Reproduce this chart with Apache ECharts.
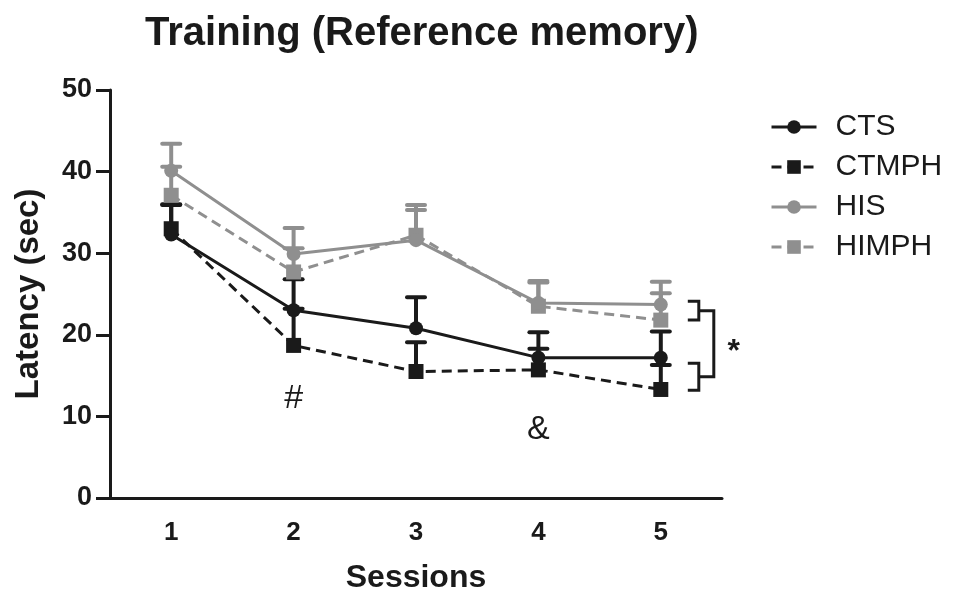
<!DOCTYPE html>
<html>
<head>
<meta charset="utf-8">
<script src="https://cdn.jsdelivr.net/npm/echarts@6/dist/echarts.min.js"></script>
<style>
  html, body { margin: 0; padding: 0; background: #fff; }
  #chart { width: 953px; height: 593px; }
</style>
</head>
<body>
<div id="chart"></div>
<script>
// Sessions on the x axis
const sessions = ['1', '2', '3', '4', '5'];
const yTicks = [0, 10, 20, 30, 40, 50];

// Mean latency (sec) per group
const ctsMean    = [32.3, 23.0, 20.8, 17.2, 17.2];
const ctmphMean  = [33.0, 18.7, 15.5, 15.7, 13.3];
const hisMean    = [40.1, 29.9, 31.6, 23.9, 23.7];
const himphMean  = [37.1, 27.7, 32.2, 23.5, 21.8];

// Upper end of the error bar (mean + SEM)
const ctsUpper   = [36.0, 26.8, 24.6, 20.3, 20.4];
const ctmphUpper = [35.9, 23.2, 19.1, 18.3, 16.3];
const hisUpper   = [43.4, 33.1, 35.9, 26.6, 26.5];
const himphUpper = [40.6, 30.6, 35.3, 26.4, 25.1];

// Significance brackets at the last session (top/bottom of each group pair)
const bracketSession = 4;
const bracketHigh = [24.1, 21.8];
const bracketLow  = [16.5, 13.2];
const bracketMark = '*';

// Per-session markers
const markSymbols  = ['#', '&'];
const markSessions = [1, 3];
const markValues   = [12.2, 8.4];

const BLACK = '#1a1a1a';
const GRAY = '#8f8f8f';
const FONT = '"Liberation Sans", Arial, sans-serif';

function errorData(mean, upper) {
  return mean.map((m, i) => [i, m, upper[i]]);
}

function errorRender(color) {
  return function (params, api) {
    const x = api.value(0);
    const p0 = api.coord([x, api.value(1)]);
    const p1 = api.coord([x, api.value(2)]);
    return {
      type: 'group',
      children: [
        { type: 'line', shape: { x1: p0[0], y1: p0[1], x2: p1[0], y2: p1[1] },
          style: { stroke: color, lineWidth: 4 } },
        { type: 'line', shape: { x1: p1[0] - 9, y1: p1[1], x2: p1[0] + 9, y2: p1[1] },
          style: { stroke: color, lineWidth: 4, lineCap: 'round' } }
      ]
    };
  };
}

function errorSeries(name, mean, upper, color) {
  return {
    name: name + ' SEM',
    type: 'custom',
    data: errorData(mean, upper),
    encode: { x: 0, y: [1, 2] },
    renderItem: errorRender(color),
    silent: true
  };
}

function lineSeries(name, data, color, symbol, dashed) {
  return {
    name: name,
    type: 'line',
    data: data,
    symbol: symbol,
    symbolSize: symbol === 'rect' ? 15 : 14,
    itemStyle: { color: color },
    lineStyle: { color: color, width: 3, type: dashed ? [10, 6] : 'solid' }
  };
}

const chart = echarts.init(document.getElementById('chart'), null, { renderer: 'canvas' });

const option = {
  animation: false,
  backgroundColor: '#ffffff',
  title: {
    text: 'Training (Reference memory)',
    left: 140,
    top: 9,
    textStyle: { fontFamily: FONT, fontWeight: 'bold', fontSize: 40, color: BLACK }
  },
  legend: {
    orient: 'vertical',
    left: 765,
    top: 107,
    itemWidth: 45,
    itemHeight: 17,
    itemGap: 10,
    data: ['CTS', 'CTMPH', 'HIS', 'HIMPH'],
    lineStyle: { width: 3 },
    textStyle: { fontFamily: FONT, fontSize: 30, color: BLACK, lineHeight: 30, padding: [0, 0, 0, 14] }
  },
  grid: { left: 110, right: 231, top: 90, bottom: 95, containLabel: false, outerBoundsMode: 'none' },
  xAxis: {
    type: 'category',
    data: sessions,
    boundaryGap: true,
    name: 'Sessions',
    nameLocation: 'middle',
    nameGap: 64,
    nameTextStyle: { fontFamily: FONT, fontWeight: 'bold', fontSize: 32, color: BLACK },
    axisLine: { lineStyle: { color: BLACK, width: 3 } },
    axisTick: { alignWithLabel: true, length: 10, lineStyle: { color: BLACK, width: 3 } },
    axisLabel: { fontFamily: FONT, fontWeight: 'bold', fontSize: 26, color: BLACK, margin: 22 },
    splitLine: { show: false }
  },
  yAxis: {
    type: 'value',
    min: yTicks[0],
    max: yTicks[yTicks.length - 1],
    interval: yTicks[1] - yTicks[0],
    name: 'Latency (sec)',
    nameLocation: 'middle',
    nameGap: 65,
    nameTextStyle: { fontFamily: FONT, fontWeight: 'bold', fontSize: 33, color: BLACK },
    axisLine: { show: true, lineStyle: { color: BLACK, width: 3 } },
    axisTick: { show: true, length: 14, lineStyle: { color: BLACK, width: 3 } },
    axisLabel: { fontFamily: FONT, fontWeight: 'bold', fontSize: 27, color: BLACK, margin: 18 },
    splitLine: { show: false }
  },
  series: [
    errorSeries('HIMPH', himphMean, himphUpper, GRAY),
    lineSeries('HIMPH', himphMean, GRAY, 'rect', true),
    errorSeries('HIS', hisMean, hisUpper, GRAY),
    lineSeries('HIS', hisMean, GRAY, 'circle', false),
    errorSeries('CTMPH', ctmphMean, ctmphUpper, BLACK),
    lineSeries('CTMPH', ctmphMean, BLACK, 'rect', true),
    errorSeries('CTS', ctsMean, ctsUpper, BLACK),
    lineSeries('CTS', ctsMean, BLACK, 'circle', false),
    {
      name: 'brackets',
      type: 'custom',
      silent: true,
      data: [[bracketSession, bracketHigh[0], bracketHigh[1], bracketLow[0], bracketLow[1]]],
      encode: { x: 0, y: [1, 2, 3, 4] },
      renderItem: function (params, api) {
        const x = api.value(0);
        const a0 = api.coord([x, api.value(1)]);
        const a1 = api.coord([x, api.value(2)]);
        const b0 = api.coord([x, api.value(3)]);
        const b1 = api.coord([x, api.value(4)]);
        const xl = a0[0] + 27, xr = a0[0] + 38, xo = a0[0] + 53;
        const am = (a0[1] + a1[1]) / 2, bm = (b0[1] + b1[1]) / 2;
        const st = { stroke: BLACK, lineWidth: 3, fill: null };
        return {
          type: 'group',
          children: [
            { type: 'polyline', shape: { points: [[xl, a0[1]], [xr, a0[1]], [xr, a1[1]], [xl, a1[1]]] }, style: st },
            { type: 'polyline', shape: { points: [[xl, b0[1]], [xr, b0[1]], [xr, b1[1]], [xl, b1[1]]] }, style: st },
            { type: 'polyline', shape: { points: [[xr, am], [xo, am], [xo, bm], [xr, bm]] }, style: st },
            { type: 'text', style: { text: bracketMark, x: xo + 20, y: (am + bm) / 2 + 8,
                align: 'center', verticalAlign: 'middle',
                font: 'bold 32px ' + FONT, fill: BLACK } }
          ]
        };
      }
    },
    {
      name: 'marks',
      type: 'custom',
      silent: true,
      data: markSessions.map((s, i) => [s, markValues[i]]),
      encode: { x: 0, y: 1 },
      renderItem: function (params, api) {
        const p = api.coord([api.value(0), api.value(1)]);
        return {
          type: 'text',
          style: { text: markSymbols[params.dataIndex], x: p[0], y: p[1],
            align: 'center', verticalAlign: 'middle',
            font: 'normal 34px ' + FONT, fill: BLACK }
        };
      }
    }
  ]
};

chart.setOption(option);
</script>
</body>
</html>
